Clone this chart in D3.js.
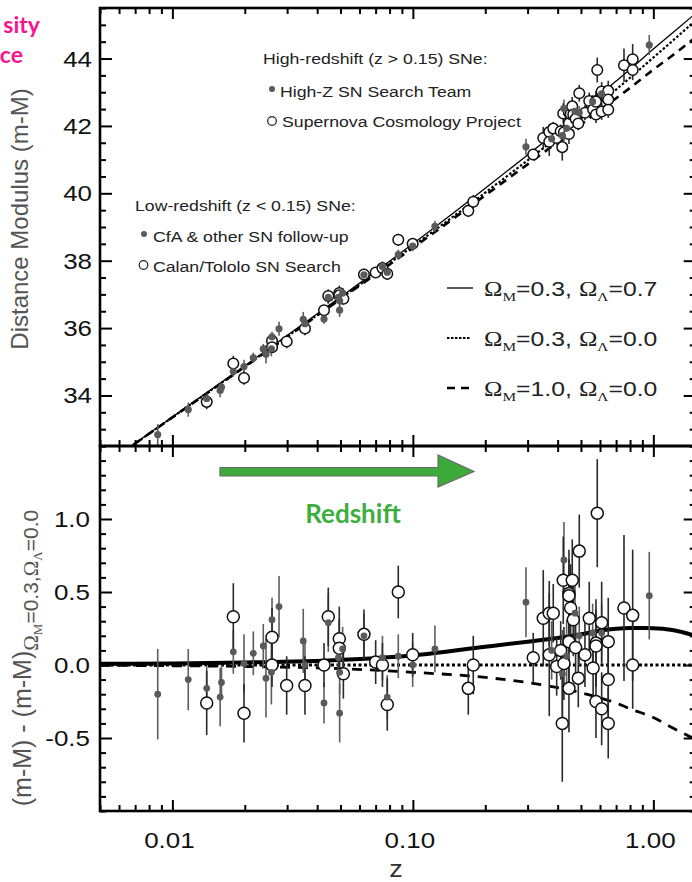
<!DOCTYPE html>
<html>
<head>
<meta charset="utf-8">
<script src="https://cdn.jsdelivr.net/npm/d3@7"></script>
<style>
  body { margin: 0; background: #fff; }
  svg { display: block; }
</style>
</head>
<body>
<div id="chart"></div>
<script>
// the scanned figure is a bit wider than tall, so text gets a horizontal stretch
const SX = 1.18;
const sans = '"Liberation Sans", Arial, Helvetica, sans-serif';
const serif = '"Liberation Serif", "Times New Roman", serif';

// model curves
const curveZ    = [0.005, 0.01, 0.02, 0.05, 0.1, 0.2, 0.3, 0.4, 0.5, 0.6, 0.7, 0.8, 1.0, 1.2, 1.5];
const muLambda  = [31.85, 33.36, 34.88, 36.92, 38.50, 40.15, 41.14, 41.86, 42.44, 42.93, 43.33, 43.68, 44.28, 44.76, 45.34];
const muOpen    = [31.84, 33.35, 34.86, 36.88, 38.43, 40.02, 40.98, 41.67, 42.23, 42.69, 43.08, 43.43, 44.03, 44.52, 45.14];
const muFlat    = [31.84, 33.35, 34.85, 36.86, 38.38, 39.94, 40.86, 41.52, 42.04, 42.47, 42.82, 43.13, 43.67, 44.09, 44.63];
const resLambda = [0.008, 0.01, 0.017, 0.035, 0.065, 0.125, 0.16, 0.185, 0.21, 0.235, 0.248, 0.253, 0.252, 0.24, 0.20];
const resOpen   = [0, 0, 0, 0, 0, 0, 0, 0, 0, 0, 0, 0, 0, 0, 0];
const resFlat   = [-0.002, -0.005, -0.01, -0.025, -0.05, -0.085, -0.12, -0.155, -0.19, -0.225, -0.26, -0.30, -0.36, -0.43, -0.51];

// supernovae: [z, distance modulus, residual, error]
const cfa = [
  [0.00869, 32.84, -0.20, 0.31], [0.01164, 33.58, -0.10, 0.21], [0.01389, 33.91, -0.16, 0.15],
  [0.01600, 34.25, -0.12, 0.12], [0.01580, 34.15, -0.22, 0.20], [0.01792, 34.71, 0.09, 0.15],
  [0.01985, 34.86, 0.01, 0.20], [0.02170, 35.12, 0.08, 0.15], [0.02388, 35.38, 0.13, 0.15],
  [0.02450, 35.22, -0.09, 0.27], [0.02596, 35.74, 0.31, 0.15], [0.02580, 35.38, -0.05, 0.22],
  [0.02776, 35.98, 0.40, 0.21], [0.03501, 36.26, 0.165, 0.22], [0.03559, 36.13, 0.00, 0.15],
  [0.04271, 36.27, -0.26, 0.14], [0.04449, 36.91, 0.29, 0.20], [0.04960, 36.53, -0.33, 0.20],
  [0.04960, 36.81, -0.05, 0.15], [0.04900, 36.91, 0.05, 0.12], [0.05105, 37.04, 0.11, 0.15],
  [0.06259, 37.58, 0.20, 0.15], [0.07473, 37.83, 0.05, 0.15], [0.07825, 37.66, -0.22, 0.15],
  [0.08696, 38.18, 0.06, 0.15], [0.09981, 38.43, 0.00, 0.15], [0.1235, 39.02, 0.11, 0.16]
];
const calan = [
  [0.01389, 33.81, -0.26, 0.22], [0.01792, 34.95, 0.33, 0.23], [0.01985, 34.52, -0.33, 0.20],
  [0.02596, 35.62, 0.19, 0.20], [0.02596, 35.43, 0.00, 0.15], [0.02987, 35.60, -0.14, 0.20],
  [0.03559, 35.99, -0.14, 0.20], [0.04271, 36.53, 0.00, 0.15], [0.04449, 36.95, 0.33, 0.20],
  [0.04943, 37.04, 0.18, 0.22], [0.04943, 36.97, 0.115, 0.20], [0.05140, 36.87, -0.06, 0.17],
  [0.06259, 37.59, 0.21, 0.17], [0.07003, 37.65, 0.02, 0.15], [0.07473, 37.78, 0.00, 0.15],
  [0.07825, 37.61, -0.27, 0.18], [0.08696, 38.62, 0.50, 0.18], [0.09981, 38.50, 0.07, 0.15]
];
const highZTeam = [
  [0.2953, 41.38, 0.43, 0.24], [0.3777, 41.62, 0.10, 0.20], [0.4188, 41.71, -0.06, 0.30],
  [0.4248, 42.52, 0.72, 0.26], [0.4359, 41.93, 0.06, 0.25], [0.4722, 42.43, 0.355, 0.25],
  [0.4920, 42.39, 0.20, 0.20], [0.5592, 42.72, 0.22, 0.20], [0.6096, 42.95, 0.22, 0.20],
  [0.9616, 44.40, 0.475, 0.30]
];
const scp = [
  [0.1700, 39.48, -0.16, 0.18], [0.1783, 39.75, 0.00, 0.20], [0.3166, 41.15, 0.05, 0.17],
  [0.3485, 41.64, 0.32, 0.33], [0.3691, 41.82, 0.355, 0.22], [0.3691, 41.53, 0.07, 0.42],
  [0.3835, 41.92, 0.355, 0.20], [0.3963, 41.64, -0.01, 0.20], [0.4118, 41.84, 0.10, 0.20],
  [0.4181, 41.37, -0.40, 0.40], [0.4220, 42.37, 0.58, 0.30], [0.4248, 41.81, 0.01, 0.25],
  [0.4457, 42.41, 0.49, 0.30], [0.4457, 42.40, 0.475, 0.25], [0.4457, 42.08, 0.16, 0.30],
  [0.4457, 41.76, -0.16, 0.30], [0.4530, 42.35, 0.39, 0.30], [0.4600, 42.58, 0.58, 0.28],
  [0.4645, 42.34, 0.31, 0.25], [0.4750, 42.21, 0.12, 0.22], [0.4874, 42.07, -0.09, 0.20],
  [0.4920, 42.97, 0.78, 0.25], [0.5194, 42.39, 0.07, 0.22], [0.5413, 42.74, 0.32, 0.25],
  [0.5617, 42.49, -0.02, 0.20], [0.5773, 42.74, 0.15, 0.30], [0.5773, 42.72, 0.13, 0.25],
  [0.5773, 42.34, -0.25, 0.25], [0.5845, 43.66, 1.04, 0.37], [0.6096, 43.02, 0.29, 0.28],
  [0.6096, 42.43, -0.30, 0.25], [0.6492, 43.04, 0.16, 0.30], [0.6492, 42.78, -0.10, 0.30],
  [0.6492, 42.48, -0.40, 0.24], [0.7549, 43.80, 0.39, 0.50], [0.8204, 43.98, 0.34, 0.45],
  [0.8204, 43.66, 0.00, 0.30]
];

// ticks
const xMajor = [0.01, 0.1, 1];
const xLabels = ["0.01", "0.10", "1.00"];
const yTopMajor = [34, 36, 38, 40, 42, 44];
const yBotMajor = [-0.5, 0.0, 0.5, 1.0];
const yBotLabels = ["-0.5", "0.0", "0.5", "1.0"];

const width = 692, height = 882;
const svg = d3.select("#chart").append("svg")
    .attr("width", width)
    .attr("height", height)
    .style("font-family", sans);

// scales
var x = d3.scaleLog().domain([0.005, 1.5]).range([100, 695.7]);
var yTop = d3.scaleLinear().domain([32.5, 45.5]).range([446, 8]);
var yBot = d3.scaleLinear().domain([-1, 1.5]).range([811, 446]);
const x0 = x.range()[0], x1 = x.range()[1];

var defs = svg.append("defs");
defs.append("clipPath").attr("id", "clipTop").append("rect")
    .attr("x", x0).attr("y", yTop(45.5)).attr("width", x1 - x0).attr("height", yTop(32.5) - yTop(45.5));
defs.append("clipPath").attr("id", "clipBot").append("rect")
    .attr("x", x0).attr("y", yBot(1.5)).attr("width", x1 - x0).attr("height", yBot(-1) - yBot(1.5));

function txt(px, py, str, size, anchor) {
    return svg.append("text")
        .attr("transform", "translate(" + px + "," + py + ") scale(" + SX + ",1)")
        .attr("text-anchor", anchor || "start")
        .style("font-size", size + "px")
        .text(str);
}

// ---- model curves
function curve(g, yScale, vals, width, dash) {
    var line = d3.line()
        .x(function(d, i) { return x(curveZ[i]); })
        .y(function(d) { return yScale(d); })
        .curve(d3.curveMonotoneX);
    g.append("path")
        .attr("d", line(vals))
        .attr("fill", "none")
        .attr("stroke", "#000")
        .attr("stroke-width", width)
        .attr("stroke-dasharray", dash);
}

var gTop = svg.append("g").attr("clip-path", "url(#clipTop)");
var gBot = svg.append("g").attr("clip-path", "url(#clipBot)");

curve(gTop, yTop, muLambda, 1.3, null);
curve(gTop, yTop, muOpen, 2.2, "2.5,2");
curve(gTop, yTop, muFlat, 2.6, "8,6");

curve(gBot, yBot, resOpen, 3, "3,2.5");
curve(gBot, yBot, resFlat, 2.8, "10,8");
curve(gBot, yBot, resLambda, 4, null);

// ---- supernovae
var sets = [
    {data: cfa, filled: true}, {data: calan, filled: false},
    {data: highZTeam, filled: true}, {data: scp, filled: false}
];

function drawPoints(g, yScale, k, rOpen, rFill) {
    sets.forEach(function(s) {
        g.selectAll(null).data(s.data).enter().append("line")
            .attr("x1", d => x(d[0])).attr("x2", d => x(d[0]))
            .attr("y1", d => yScale(d[k] - d[3]))
            .attr("y2", d => yScale(d[k] + d[3]))
            .attr("stroke", s.filled ? "#5e5e5e" : "#2a2a2a")
            .attr("stroke-width", 1.6);
    });
    sets.filter(s => !s.filled).forEach(function(s) {
        g.selectAll(null).data(s.data).enter().append("circle")
            .attr("cx", d => x(d[0])).attr("cy", d => yScale(d[k]))
            .attr("r", rOpen)
            .attr("fill", "#fff").attr("stroke", "#111").attr("stroke-width", 1.5);
    });
    sets.filter(s => s.filled).forEach(function(s) {
        g.selectAll(null).data(s.data).enter().append("circle")
            .attr("cx", d => x(d[0])).attr("cy", d => yScale(d[k]))
            .attr("r", rFill)
            .attr("fill", "#5a5a5a");
    });
}

drawPoints(gTop, yTop, 1, 5.3, 3.6);
drawPoints(gBot, yBot, 2, 6, 3.4);

// ---- frames and ticks
function ticks(axis, tx, ty) {
    var g = svg.append("g")
        .attr("transform", "translate(" + tx + "," + ty + ")")
        .call(axis);
    g.select(".domain").remove();
    g.selectAll("text").remove();
    g.selectAll("line").attr("stroke", "#000").attr("stroke-width", 2);
}

var xMinor = x.ticks().filter(v => xMajor.indexOf(v) < 0);
var yTopMinor = d3.range(65, 92).map(v => v / 2).filter(v => yTopMajor.indexOf(v) < 0);
var yBotMinor = d3.range(-10, 16).map(v => v / 10).filter(v => yBotMajor.indexOf(v) < 0);

[[yTop, yTopMajor, yTopMinor], [yBot, yBotMajor, yBotMinor]].forEach(function(p) {
    var ys = p[0];
    ticks(d3.axisLeft(ys).tickValues(p[1]).tickSizeInner(-12).tickSizeOuter(0), x0, 0);
    ticks(d3.axisLeft(ys).tickValues(p[2]).tickSizeInner(-6).tickSizeOuter(0), x0, 0);
    ticks(d3.axisRight(ys).tickValues(p[1]).tickSizeInner(-12).tickSizeOuter(0), x1, 0);
    ticks(d3.axisRight(ys).tickValues(p[2]).tickSizeInner(-6).tickSizeOuter(0), x1, 0);
    var top = ys.range()[1], bottom = ys.range()[0];
    ticks(d3.axisTop(x).tickValues(xMajor).tickSizeInner(-11).tickSizeOuter(0), 0, top);
    ticks(d3.axisTop(x).tickValues(xMinor).tickSizeInner(-6).tickSizeOuter(0), 0, top);
    ticks(d3.axisBottom(x).tickValues(xMajor).tickSizeInner(-11).tickSizeOuter(0), 0, bottom);
    ticks(d3.axisBottom(x).tickValues(xMinor).tickSizeInner(-6).tickSizeOuter(0), 0, bottom);
    svg.append("rect")
        .attr("x", x0).attr("y", top)
        .attr("width", x1 - x0).attr("height", bottom - top)
        .attr("fill", "none").attr("stroke", "#000").attr("stroke-width", 2.6);
});

// ---- tick labels
yTopMajor.forEach(function(v) {
    txt(92, yTop(v) + 8, String(v), 22, "end").attr("fill", "#111");
});
yBotMajor.forEach(function(v, i) {
    txt(90, yBot(v) + 8, yBotLabels[i], 22, "end").attr("fill", "#111");
});
xMajor.forEach(function(v, i) {
    txt(x(v) - 3, 848, xLabels[i], 22, "middle").attr("fill", "#111");
});
txt(396, 877, "z", 23, "middle").attr("fill", "#333");

// ---- axis titles
svg.append("text")
    .attr("transform", "translate(28,219) rotate(-90)")
    .attr("text-anchor", "middle")
    .attr("fill", "#555")
    .style("font-size", "24px")
    .text("Distance Modulus (m-M)");

var yl = svg.append("text")
    .attr("transform", "translate(31,658) rotate(-90)")
    .attr("text-anchor", "middle")
    .attr("fill", "#555")
    .style("font-size", "25px");
yl.append("tspan").text("(m-M) - (m-M)");
yl.append("tspan").attr("dy", 7).style("font-family", serif).style("font-size", "21px").text("Ω");
yl.append("tspan").attr("dy", 4).style("font-family", serif).style("font-size", "13px").text("M");
yl.append("tspan").attr("dy", -4).style("font-size", "21px").text("=0.3,");
yl.append("tspan").style("font-family", serif).style("font-size", "21px").text("Ω");
yl.append("tspan").attr("dy", 4).style("font-family", serif).style("font-size", "13px").text("Λ");
yl.append("tspan").attr("dy", -4).style("font-size", "21px").text("=0.0");

// ---- legends
txt(263, 64, "High-redshift (z > 0.15) SNe:", 15).attr("fill", "#222");
svg.append("circle").attr("cx", 272).attr("cy", 89).attr("r", 3).attr("fill", "#5a5a5a");
txt(280, 97, "High-Z SN Search Team", 15).attr("fill", "#222");
svg.append("circle").attr("cx", 272).attr("cy", 121).attr("r", 4.3)
    .attr("fill", "#fff").attr("stroke", "#222").attr("stroke-width", 1.2);
txt(282, 127, "Supernova Cosmology Project", 15).attr("fill", "#222");

txt(135, 211, "Low-redshift (z < 0.15) SNe:", 15).attr("fill", "#222");
svg.append("circle").attr("cx", 144).attr("cy", 234).attr("r", 3).attr("fill", "#5a5a5a");
txt(153, 242, "CfA & other SN follow-up", 15).attr("fill", "#222");
svg.append("circle").attr("cx", 143.5).attr("cy", 265).attr("r", 4.3)
    .attr("fill", "#fff").attr("stroke", "#222").attr("stroke-width", 1.2);
txt(153, 272, "Calan/Tololo SN Search", 15).attr("fill", "#222");

var lineKeys = [
    {y: 288, w: 1.3, dash: null, x2: 473, m: "0.3", l: "0.7"},
    {y: 338, w: 2.2, dash: "2.5,1.5", x2: 470, m: "0.3", l: "0.0"},
    {y: 388, w: 2.6, dash: "8,6", x2: 473, m: "1.0", l: "0.0"}
];
lineKeys.forEach(function(k) {
    svg.append("line")
        .attr("x1", 447).attr("x2", k.x2).attr("y1", k.y).attr("y2", k.y)
        .attr("stroke", "#000").attr("stroke-width", k.w).attr("stroke-dasharray", k.dash);
    var t = txt(484, k.y + 8, "", 21).attr("fill", "#222");
    t.append("tspan").style("font-family", serif).text("Ω");
    t.append("tspan").attr("dy", 5).style("font-family", serif).style("font-size", "13px").text("M");
    t.append("tspan").attr("dy", -5).text("=" + k.m + ",");
    t.append("tspan").attr("dx", 6).style("font-family", serif).text("Ω");
    t.append("tspan").attr("dy", 5).style("font-family", serif).style("font-size", "13px").text("Λ");
    t.append("tspan").attr("dy", -5).text("=" + k.l);
});

// ---- redshift arrow overlay
svg.append("path")
    .attr("d", "M220,467.5 H438 V455 L474,471.5 L438,487 V476 H220 Z")
    .attr("fill", "#3dab3b")
    .attr("stroke", "#6b6b6b")
    .attr("stroke-width", 1.2);
svg.append("text")
    .attr("x", 353).attr("y", 523)
    .attr("text-anchor", "middle")
    .attr("fill", "#3dae3f")
    .style("font-family", "Lato, sans-serif")
    .style("font-weight", "bold")
    .style("font-size", "26px")
    .text("Redshift");

// ---- cut-off slide text in the corner
svg.append("text").attr("x", 40).attr("y", 33).attr("text-anchor", "end")
    .attr("fill", "#f5158d").style("font-family", "Lato, sans-serif")
    .style("font-weight", "bold").style("font-size", "23px").text("sity");
svg.append("text").attr("x", 23).attr("y", 63).attr("text-anchor", "end")
    .attr("fill", "#f5158d").style("font-family", "Lato, sans-serif")
    .style("font-weight", "bold").style("font-size", "23px").text("ce");
</script>
</body>
</html>
